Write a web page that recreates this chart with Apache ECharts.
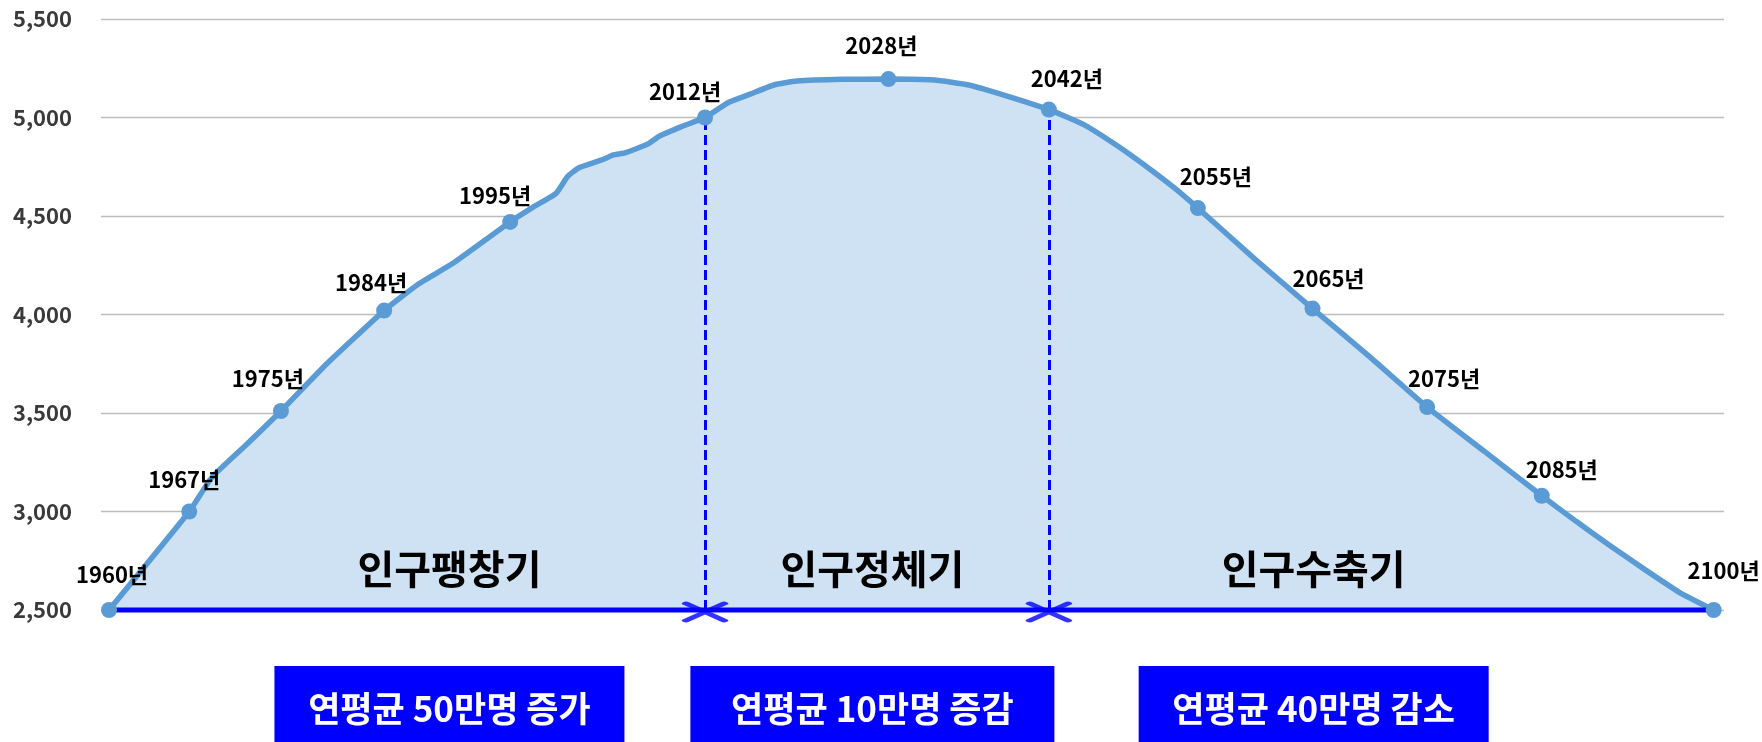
<!DOCTYPE html>
<html>
<head>
<meta charset="utf-8">
<script src="https://cdn.jsdelivr.net/npm/echarts@6/dist/echarts.min.js"></script>
<style>
  html, body { margin: 0; padding: 0; background: #fff; }
  #chart { width: 1762px; height: 742px; }
</style>
</head>
<body>
<div id="chart"></div>
<script>
const FONT = '"Noto Sans CJK KR", "Noto Sans", sans-serif';

// 인구 (만명)
const curveYears = [1960, 1967, 1969, 1972, 1975, 1979, 1984, 1987, 1990, 1995,
  1997, 1999, 2000, 2001, 2003, 2004, 2005, 2007, 2008, 2010, 2012, 2014, 2016,
  2018, 2020, 2024, 2028, 2032, 2035, 2038, 2042, 2045, 2048, 2051, 2053, 2055,
  2060, 2065, 2070, 2075, 2080, 2085, 2088, 2091, 2094, 2097, 2100];
const curveValues = [2500, 3000, 3175, 3340, 3510, 3750, 4020, 4155, 4260, 4470,
  4545, 4615, 4700, 4745, 4785, 4810, 4820, 4865, 4905, 4955, 5000, 5075, 5120,
  5165, 5185, 5194, 5195, 5190, 5165, 5115, 5040, 4965, 4855, 4730, 4640, 4540,
  4280, 4030, 3785, 3530, 3305, 3080, 2950, 2825, 2705, 2590, 2500];

const markerYears = [1960, 1967, 1975, 1984, 1995, 2012, 2028, 2042, 2055, 2065, 2075, 2085, 2100];
const boundaryYears = [2012, 2042];

const phaseNames = ['인구팽창기', '인구정체기', '인구수축기'];
const phaseNotes = ['연평균 50만명 증가', '연평균 10만명 증감', '연평균 40만명 감소'];
const phaseCenters = [1989.7, 2026.6, 2065.1];

const yMin = 2500, yMax = 5500, yStep = 500;

// label nudges for the year tags (style)
const labelShift = [[3, -16], [-5, -13], [-13, -13], [-13, -9], [-15, -7], [-20, -7],
  [-7, -14], [18, -12], [18, -12], [16, -11], [17, -9], [20, -7], [10, -20]];
const boxWidth = [350, 364, 350];

const valueAt = y => curveValues[curveYears.indexOf(y)];

const chart = echarts.init(document.getElementById('chart'));
chart.setOption({
  animation: false,
  grid: { left: 101, right: 38, top: 19, bottom: 132, outerBoundsMode: 'none' },
  xAxis: { type: 'value', min: 1959.3, max: 2100.9, show: false },
  yAxis: {
    type: 'value',
    min: yMin,
    max: yMax,
    interval: yStep,
    axisLine: { show: false },
    axisTick: { show: false },
    axisLabel: { margin: 29, fontSize: 22, fontWeight: 'bold', color: '#3a3a3a', fontFamily: FONT },
    splitLine: { lineStyle: { color: '#bdbdbd', width: 1.3 } }
  },
  series: [
    {
      name: '인구',
      type: 'line',
      data: curveYears.map((y, i) => [y, curveValues[i]]),
      smooth: 0.15,
      showSymbol: false,
      clip: false,
      lineStyle: { color: '#5b9bd5', width: 5.5 },
      areaStyle: { color: '#cfe2f3', origin: 'start', opacity: 1 },
      markLine: {
        silent: true,
        symbol: 'none',
        label: { show: false },
        lineStyle: { color: '#0000ff', width: 3, type: [10, 5] },
        data: boundaryYears.map(y => [{ coord: [y, yMin] }, { coord: [y, valueAt(y)] }])
      }
    },
    {
      type: 'line',
      data: [[curveYears[0], yMin], [curveYears[curveYears.length - 1], yMin]],
      showSymbol: false,
      clip: false,
      lineStyle: { color: '#0000ff', width: 5 },
      z: 3
    },
    {
      type: 'scatter',
      data: markerYears.map((y, i) => ({ value: [y, valueAt(y)], label: { offset: labelShift[i] } })),
      symbolSize: 16,
      clip: false,
      itemStyle: { color: '#5b9bd5', opacity: 1 },
      label: {
        show: true,
        position: 'top',
        distance: 0,
        formatter: p => p.value[0] + '년',
        fontSize: 22,
        fontWeight: 'bold',
        color: '#000',
        fontFamily: FONT
      },
      z: 5
    },
    {
      type: 'scatter',
      data: boundaryYears.map(y => [y, yMin]),
      symbol: 'path://M0,0L38,17M0,17L38,0',
      symbolSize: [38, 17],
      symbolOffset: [0, 2],
      clip: false,
      itemStyle: { color: 'none', borderColor: '#0000ff', borderWidth: 5.5, borderCap: 'round' },
      z: 6
    }
  ]
});

// phase titles and the blue note boxes underneath
const px = y => chart.convertToPixel({ xAxisIndex: 0 }, y);
const graphics = [];
phaseNames.forEach((name, i) => {
  const cx = px(phaseCenters[i]);
  graphics.push({
    type: 'text', x: cx, y: 569, z: 10,
    style: { text: name, fill: '#000', fontSize: 40, fontWeight: 'bold', fontFamily: FONT, align: 'center', verticalAlign: 'middle' }
  });
  graphics.push({
    type: 'rect', z: 10,
    shape: { x: cx - boxWidth[i] / 2, y: 666, width: boxWidth[i], height: 76 },
    style: { fill: '#0000ff' }
  });
  graphics.push({
    type: 'text', x: cx, y: 709, z: 11,
    style: { text: phaseNotes[i], fill: '#fff', fontSize: 35, fontWeight: 'bold', fontFamily: FONT, align: 'center', verticalAlign: 'middle' }
  });
});
chart.setOption({ graphic: graphics });
</script>
</body>
</html>
